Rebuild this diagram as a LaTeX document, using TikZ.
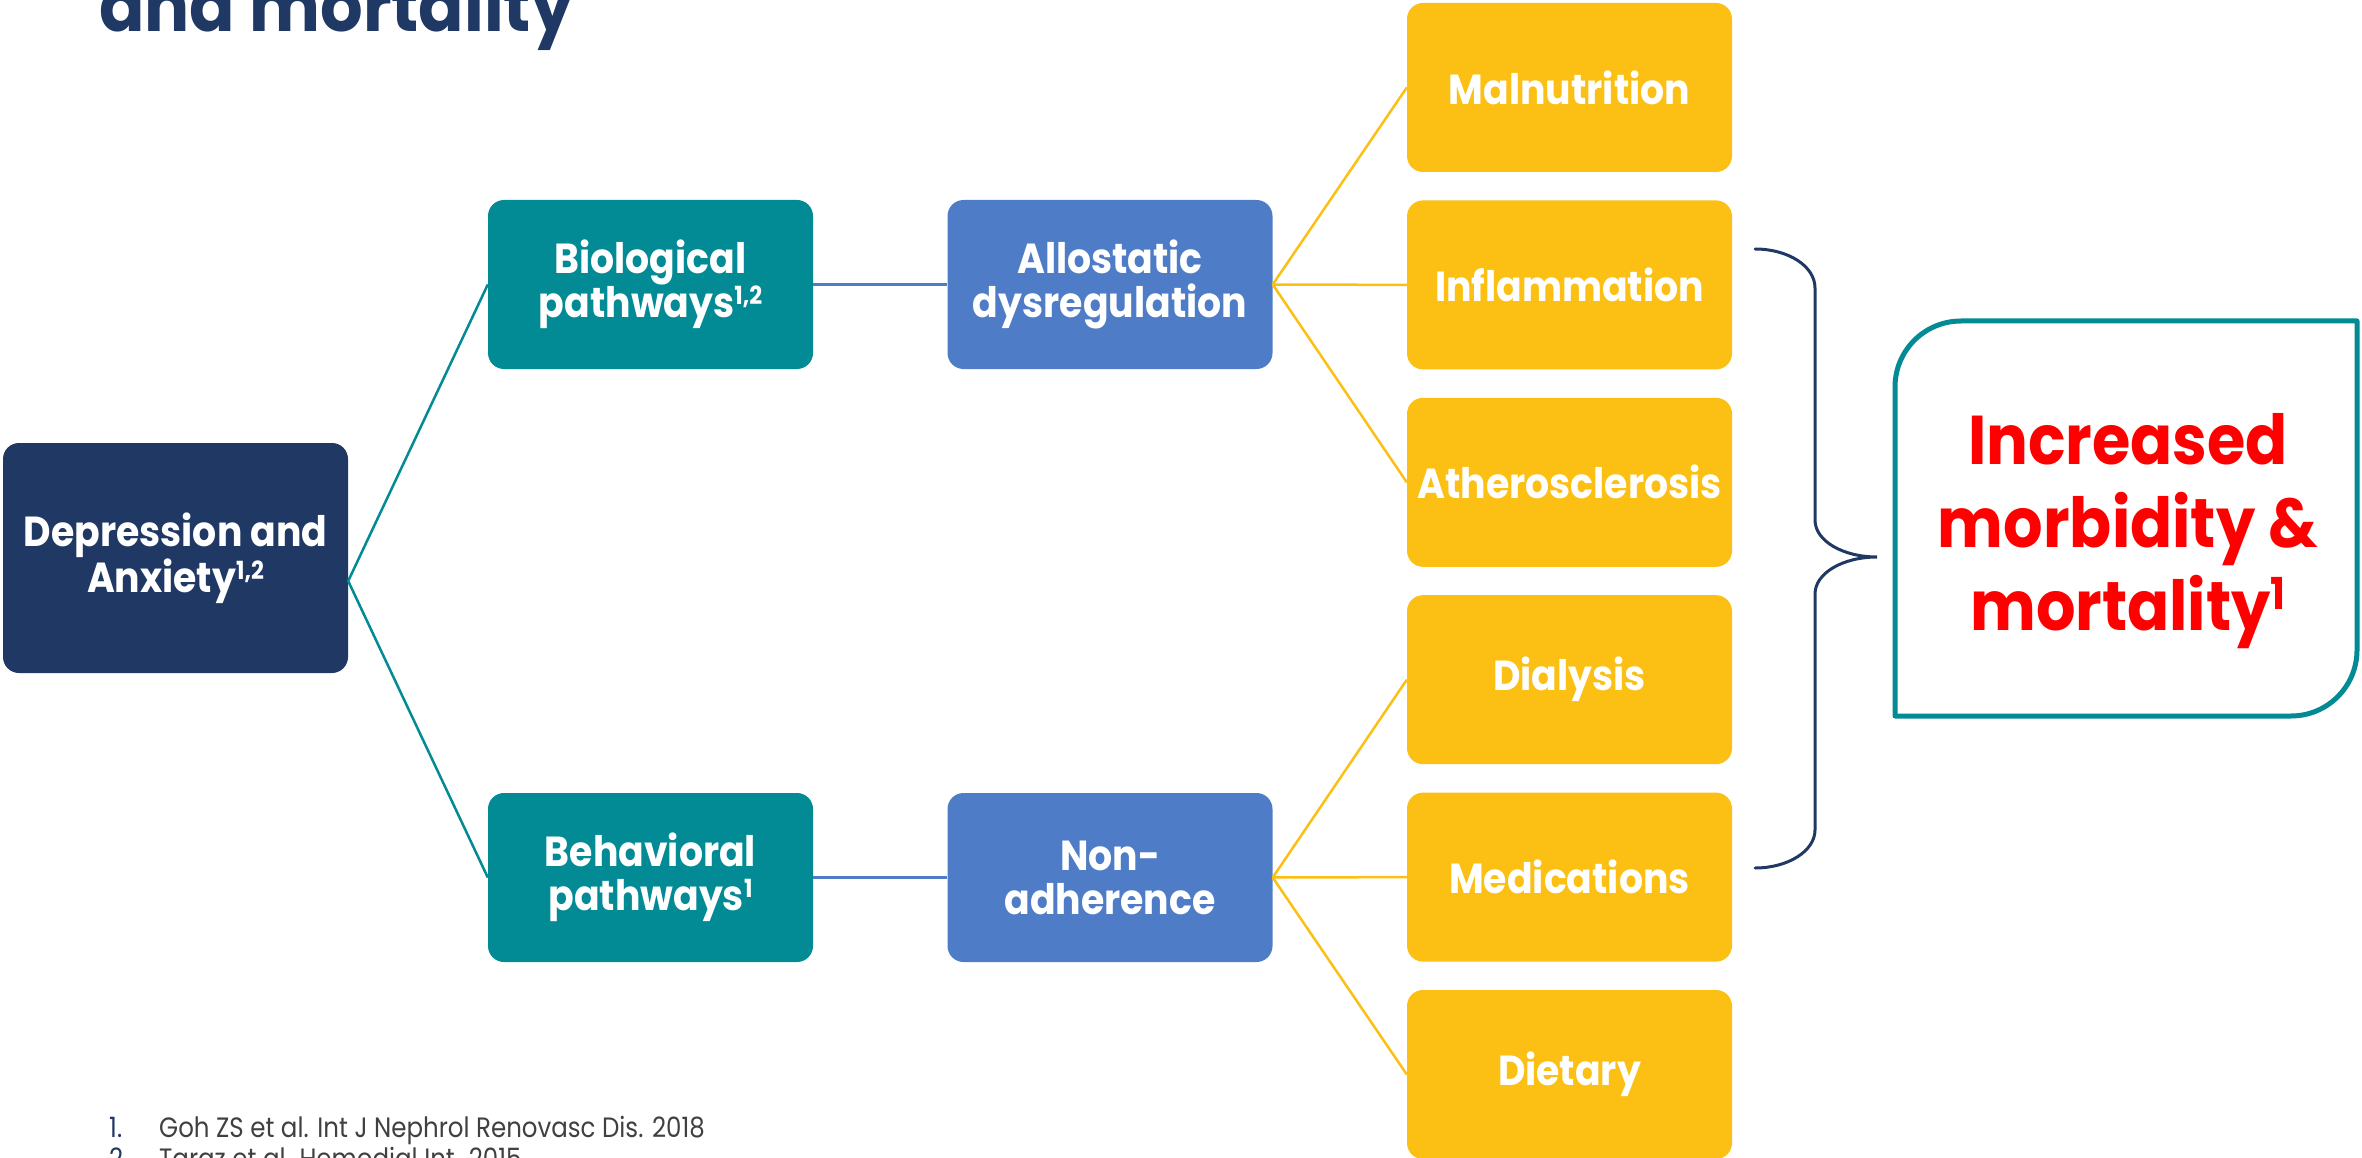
\documentclass[tikz,border=0pt]{standalone}
\usepackage{fontspec}
\setmainfont{Poppins}
\newfontfamily\boxfont[FakeStretch=0.9]{Poppins}
\newfontfamily\titlefont[FakeStretch=0.93]{Poppins}
\newfontfamily\notefont[FakeStretch=0.875]{Poppins}
\usetikzlibrary{calc}

\definecolor{navy}{RGB}{32,56,100}
\definecolor{tealc}{RGB}{2,138,149}
\definecolor{bluec}{RGB}{79,124,198}
\definecolor{gold}{RGB}{252,191,19}
\definecolor{notegrey}{RGB}{64,64,64}

% raised reference number: raise, size, text
\newcommand\refmark[3]{\raisebox{#1pt}{\fontsize{#2}{#2}\selectfont #3}}

\begin{document}
\begin{tikzpicture}[x=1pt,y=-1pt,
  box/.style={rounded corners=16pt, minimum width=325pt, minimum height=169pt,
    inner sep=0pt, align=center, text=white,
    font=\boxfont\bfseries\fontsize{42}{44}\selectfont},
  navybox/.style={box, fill=navy, minimum width=345pt, minimum height=230pt},
  tealbox/.style={box, fill=tealc},
  bluebox/.style={box, fill=bluec},
  goldbox/.style={box, fill=gold},
  tealline/.style={draw=tealc, line width=2.5pt},
  blueline/.style={draw=bluec, line width=2.5pt},
  goldline/.style={draw=gold, line width=2.5pt},
  note/.style={anchor=base west, inner sep=0pt, font=\notefont\fontsize{28}{28}\selectfont},
]
\useasboundingbox (0,0) rectangle (2362,1158);
\clip (0,0) rectangle (2362,1158);

% heading (lower line only)
\node[anchor=base west, inner sep=0pt, text=navy,
      font=\titlefont\bfseries\fontsize{72}{72}\selectfont] (title) at (99,32) {and mortality};

% root
\node[navybox] (dep) at (175.5,558) {Depression and\\Anxiety\refmark{13}{25}{1,2}};

% pathways
\node[tealbox] (bio) at (650.5,284.5) {Biological\\pathways\refmark{13}{25}{1,2}};
\node[tealbox] (beh) at (650.5,877.5) {Behavioral\\pathways\refmark{13}{25}{1}};

% mechanisms
\node[bluebox] (allo) at (1110,284.5) {Allostatic\\dysregulation};
\node[bluebox] (nonad) at (1110,877.5) {Non-\\adherence};

% factors
\node[goldbox] (mal) at (1569.5,87.5)   {Malnutrition};
\node[goldbox] (inf) at (1569.5,284.9)  {Inflammation};
\node[goldbox] (ath) at (1569.5,482.3)  {Atherosclerosis};
\node[goldbox] (dia) at (1569.5,679.7)  {Dialysis};
\node[goldbox] (med) at (1569.5,877.1)  {Medications};
\node[goldbox] (die) at (1569.5,1074.5) {Dietary};

% connectors
\coordinate (fork) at ($(bio.west)!0.5!(beh.west)$);
\draw[tealline] (bio.west) -- (dep.east |- fork) -- (beh.west);
\draw[blueline] (bio.east) -- (allo.west);
\draw[blueline] (beh.east) -- (nonad.west);
\foreach \t in {mal,inf,ath} \draw[goldline] (allo.east) -- (\t.west);
\foreach \t in {dia,med,die} \draw[goldline] (nonad.east) -- (\t.west);

% brace
\draw[navy, line width=3pt, line cap=round]
  (1755,249) .. controls (1788,249) and (1815,266) .. (1815,288)
  -- (1815,520) .. controls (1815,541) and (1843,557) .. (1877,557)
  .. controls (1843,557) and (1815,573) .. (1815,594)
  -- (1815,830) .. controls (1815,851) and (1788,868) .. (1755,868);

% outcome box: rounded top-left and bottom-right corners
\draw[tealc, line width=5pt, line join=round]
  (1895,716) -- (1895,387) .. controls (1895,350.5) and (1924.5,321) .. (1961,321)
  -- (2357,321) -- (2357,650) .. controls (2357,686.5) and (2327.5,716) .. (2291,716)
  -- cycle;
\node[text=red, align=center, inner sep=0pt,
      font=\boxfont\bfseries\fontsize{69}{83}\selectfont] (outcome) at (2128,531)
  {Increased\\morbidity \&\\mortality\refmark{21}{44}{1}};

% references
\node[note, text=navy] (n1) at (109,1137) {1.};
\node[note, text=notegrey] (r1) at (159,1137) {Goh ZS et al. Int J Nephrol Renovasc Dis. 2018};
\node[note, text=navy] (n2) at (109,1168) {2.};
\node[note, text=notegrey] (r2) at (159,1168) {Taraz et al. Hemodial Int. 2015};
\end{tikzpicture}
\end{document}
